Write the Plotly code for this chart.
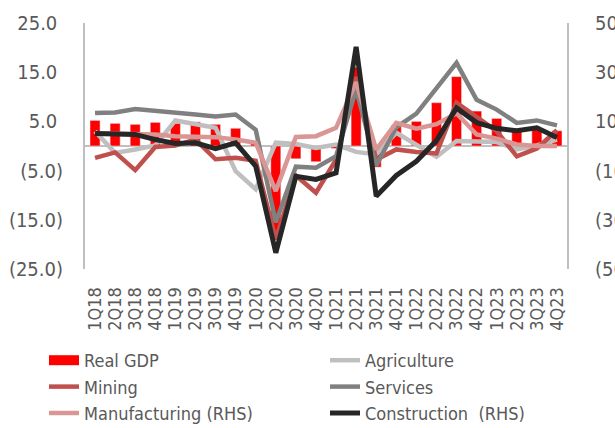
import plotly.graph_objects as go

quarters = ["1Q18", "2Q18", "3Q18", "4Q18", "1Q19", "2Q19", "3Q19", "4Q19",
            "1Q20", "2Q20", "3Q20", "4Q20", "1Q21", "2Q21", "3Q21", "4Q21",
            "1Q22", "2Q22", "3Q22", "4Q22", "1Q23", "2Q23", "3Q23", "4Q23"]

real_gdp = [5.2, 4.6, 4.4, 4.8, 4.6, 4.9, 4.4, 3.6, 0.7, -17.5, -2.6, -3.2,
            -0.5, 16.0, -4.3, 4.2, 5.0, 8.8, 14.1, 7.1, 5.6, 3.1, 3.5, 3.1]
agriculture = [3.0, -1.4, -0.7, 0.1, 5.2, 4.4, 3.7, -5.1, -8.8, 0.7, 0.4, -0.4,
               0.3, -1.2, -1.7, 2.7, 0.3, -2.2, 1.0, 1.0, 0.8, -0.7, 0.1, 1.3]
mining = [-2.4, -1.3, -4.9, -0.2, 0.1, 1.3, -2.7, -2.4, -3.0, -19.0, -6.0, -9.5,
          -2.8, 14.0, -2.8, -0.7, -1.2, -1.5, 8.8, 6.0, 3.0, -2.1, -0.5, 3.2]
services = [6.7, 6.8, 7.5, 7.2, 6.7, 6.4, 6.0, 6.4, 3.3, -15.5, -4.2, -4.4,
            -2.1, 11.5, -4.0, 3.8, 6.6, 11.8, 16.9, 9.4, 7.4, 4.7, 5.2, 4.2]
manufacturing_rhs = [5.2, 5.0, 4.8, 4.7, 4.0, 4.0, 3.6, 2.6, 1.3, -18.3, 3.7, 4.0,
                     7.4, 26.0, -1.5, 9.4, 7.0, 8.9, 13.3, 4.7, 3.0, 0.6, 0.0, 0.0]
construction_rhs = [5.1, 4.7, 4.7, 2.6, 1.0, 1.3, -1.1, 1.3, -8.2, -43.4, -12.3, -13.6,
                    -10.9, 40.3, -20.4, -12.0, -6.2, 2.2, 15.5, 9.5, 7.2, 6.2, 7.4, 3.5]

left_ticks = [25, 15, 5, -5, -15, -25]
left_text = ["25.0\u00a0", "15.0\u00a0", "5.0\u00a0", "(5.0)", "(15.0)", "(25.0)"]
right_ticks = [50, 30, 10, -10, -30, -50]
right_text = ["50.0", "30.0", "10.0", "(10.0)", "(30.0)", "(50.0)"]

FONT = "DejaVu Sans Condensed, Liberation Sans, Arial, sans-serif"
TXT = "#595959"
AX = "#bfbfbf"
LW = 4.5

fig = go.Figure()
fig.add_trace(go.Bar(x=quarters, y=real_gdp, marker_color="#ff0000",
                     name="Real GDP", showlegend=False))
# legend stand-in for the bar (wide red swatch)
fig.add_trace(go.Scatter(x=[None], y=[None], mode="lines",
                         line=dict(color="#ff0000", width=11), name="Real GDP"))
fig.add_trace(go.Scatter(x=quarters, y=agriculture, mode="lines", name="Agriculture",
                         line=dict(color="#bfbfbf", width=LW)))
fig.add_trace(go.Scatter(x=quarters, y=mining, mode="lines", name="Mining",
                         line=dict(color="#c0504d", width=LW)))
fig.add_trace(go.Scatter(x=quarters, y=services, mode="lines", name="Services",
                         line=dict(color="#808080", width=LW)))
fig.add_trace(go.Scatter(x=quarters, y=manufacturing_rhs, mode="lines",
                         name="Manufacturing (RHS)", yaxis="y2",
                         line=dict(color="#d99694", width=LW)))
fig.add_trace(go.Scatter(x=quarters, y=construction_rhs, mode="lines",
                         name="Construction  (RHS)", yaxis="y2",
                         line=dict(color="#262626", width=5)))

fig.update_layout(
    width=615, height=428,
    margin=dict(l=85, r=48, t=23, b=159, autoexpand=False),
    paper_bgcolor="white", plot_bgcolor="white",
    font=dict(family=FONT, color=TXT),
    bargap=0.5,
    showlegend=True,
    legend=dict(orientation="h",
                x=(44 - 85) / 482, y=(269 - 342) / 246,
                xanchor="left", yanchor="top",
                entrywidth=236, entrywidthmode="pixels",
                font=dict(size=18, color=TXT, family=FONT),
                bgcolor="rgba(0,0,0,0)"),
    xaxis=dict(type="category", range=[-0.5, 23.5], tickangle=-90,
               tickmode="array", tickvals=quarters, ticktext=quarters,
               tickfont=dict(size=18, color=TXT), showgrid=False,
               showline=False, zeroline=False, ticks="outside", ticklen=10,
               tickcolor="rgba(0,0,0,0)", automargin=False),
    yaxis=dict(range=[-25, 25], tickvals=left_ticks, ticktext=left_text,
               tickfont=dict(size=20, color=TXT), showgrid=False,
               zeroline=True, zerolinecolor=AX, zerolinewidth=2,
               showline=True, linecolor=AX, linewidth=2, automargin=False,
               ticks="outside", ticklen=16, tickcolor="rgba(0,0,0,0)"),
    yaxis2=dict(range=[-50, 50], overlaying="y", side="right",
                tickvals=right_ticks, ticktext=right_text,
                tickfont=dict(size=20, color=TXT), showgrid=False,
                zeroline=False, showline=True, linecolor=AX, linewidth=2,
                automargin=False,
                ticks="outside", ticklen=22, tickcolor="rgba(0,0,0,0)"),
)

fig.write_html("out.html")
